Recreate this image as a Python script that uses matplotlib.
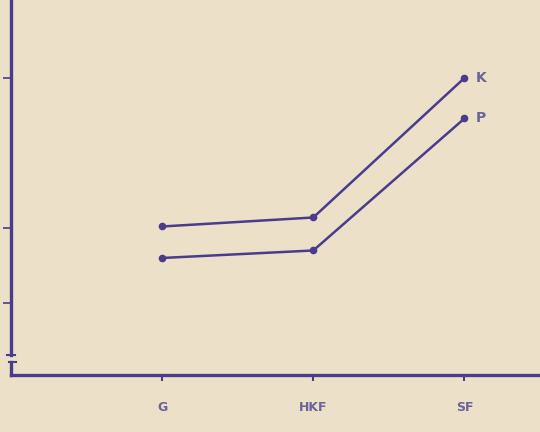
import matplotlib
matplotlib.use('Agg')
import matplotlib.pyplot as plt

# data (y units are arbitrary, no labels shown)
categories = ['G', 'HKF', 'SF']
seriesK = [2.01, 2.07, 3.00]
seriesP = [1.80, 1.85, 2.73]
seriesNames = ['K', 'P']
yTicks = [1.5, 2.0, 3.0]

bg = '#ece1c8'
lineColor = '#4a3b8c'
textColor = '#6b6399'

fig = plt.figure(figsize=(5.4, 4.32), dpi=100, facecolor=bg)
ax = fig.add_axes([0.0204, 0.132, 0.9796, 0.868], facecolor=bg)

x = list(range(len(categories)))
for values, name in zip([seriesK, seriesP], seriesNames):
    ax.plot(x, values, color=lineColor, lw=1.8, marker='o', ms=4.5, solid_capstyle='round')
    ax.text(x[-1] + 0.075, values[-1], name, color=textColor, fontsize=10,
            fontweight='bold', va='center', ha='left')

ax.set_xlim(-1.0, 2.5)
ax.set_ylim(1.02, 3.52)
ax.set_xticks(x)
ax.set_xticklabels(categories, color=textColor, fontsize=9, fontweight='bold')
ax.set_yticks(yTicks)
ax.set_yticklabels([])

for side in ['top', 'right', 'left']:
    ax.spines[side].set_visible(False)
ax.spines['bottom'].set_color(lineColor)
ax.spines['bottom'].set_linewidth(2.4)

ax.tick_params(axis='x', length=4, width=1.5, color=lineColor, pad=15)
ax.tick_params(axis='y', length=6, width=1.2, color=lineColor)

# left axis drawn by hand with a break near the bottom
tr = ax.transAxes
ax.plot([0, 0], [0.053, 1.0], transform=tr, color=lineColor, lw=2.4, clip_on=False)
ax.plot([0, 0], [0.0, 0.035], transform=tr, color=lineColor, lw=2.4, clip_on=False)
ax.plot([-0.008, 0.008], [0.053, 0.053], transform=tr, color=lineColor, lw=1.5, clip_on=False)
ax.plot([-0.004, 0.01], [0.035, 0.035], transform=tr, color=lineColor, lw=1.5, clip_on=False)

plt.savefig('out.png', dpi=100, facecolor=bg)
